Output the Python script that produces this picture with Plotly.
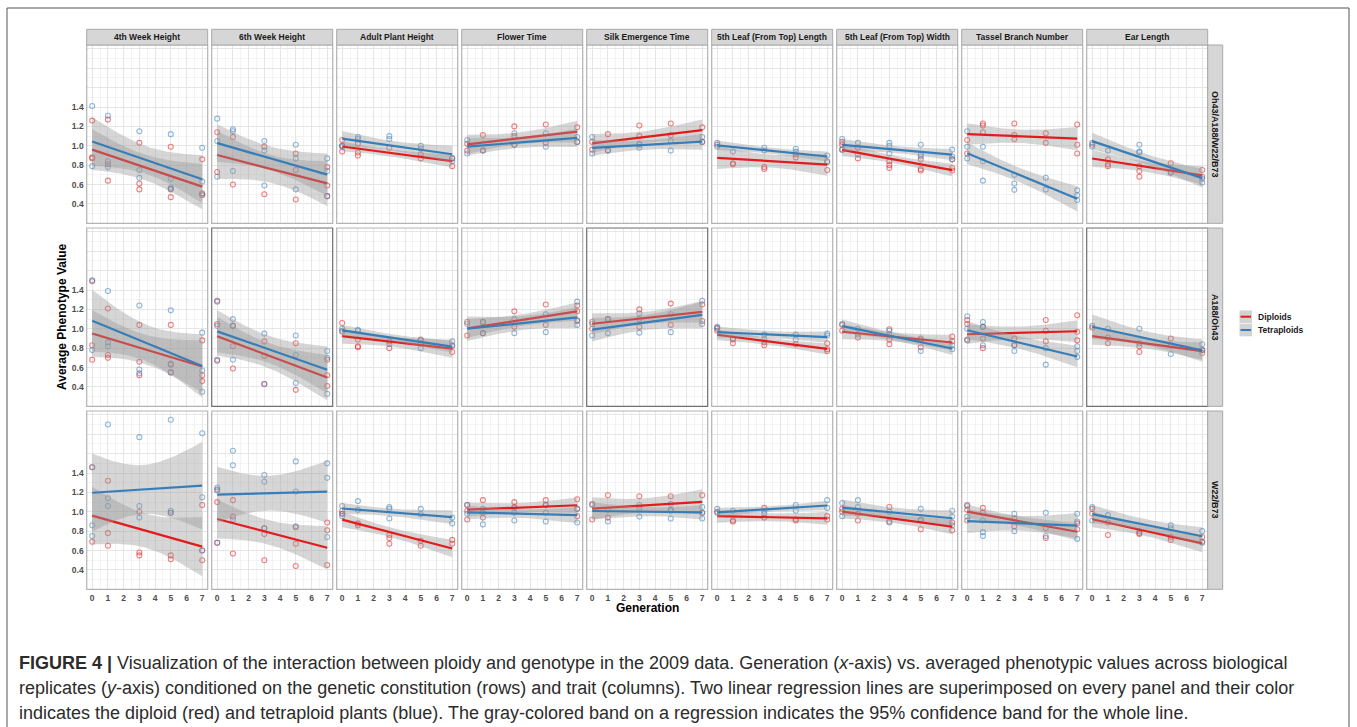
import numpy as np
import plotly.graph_objects as go

# ---------------- data ----------------
TRAITS = ["4th Week Height", "6th Week Height", "Adult Plant Height", "Flower Time",
          "Silk Emergence Time", "5th Leaf (From Top) Length", "5th Leaf (From Top) Width",
          "Tassel Branch Number", "Ear Length"]
GENOTYPES = ["Oh43/A188/W22/B73", "A188/Oh43", "W22/B73"]
PLOIDIES = ["Diploids", "Tetraploids"]
GENERATIONS = [0, 1, 3, 5, 7]
X_TICKS = [0, 1, 2, 3, 4, 5, 6, 7]
Y_TICKS = [0.4, 0.6, 0.8, 1.0, 1.2, 1.4]

# each trait: values per generation [g0, g1, g3, g5, g7]
ROW1_DIPLOID = [
    [[1.26, 0.88, 0.87], [1.27, 0.81, 0.64], [1.03, 0.61, 0.55], [0.99, 0.55, 0.47], [0.86, 0.51, 0.49]],
    [[1.14, 0.73], [1.09, 0.60], [0.99, 0.50], [0.92, 0.75, 0.445], [0.78, 0.59, 0.48]],
    [[1.06, 1.00, 0.94], [1.02, 0.93, 0.90], [0.98], [0.91, 0.87], [0.87, 0.79]],
    [[1.02, 0.95], [1.11, 0.95], [1.20, 1.10, 1.01], [1.22, 1.03], [1.19, 1.04]],
    [[1.04, 0.96], [1.12, 0.95], [1.21, 1.10, 1.01], [1.23, 1.11], [1.19, 1.04]],
    [[1.01], [0.82, 0.81], [0.78, 0.76], [0.91, 0.88], [0.84, 0.75]],
    [[1.04, 1.01, 0.96], [0.98, 0.87], [0.84, 0.80, 0.77], [0.86, 0.76, 0.745], [0.86, 0.77, 0.745]],
    [[1.06, 0.92], [1.23, 1.21, 1.14], [1.23, 1.11, 1.07], [1.13, 1.03], [1.22, 1.01, 0.92]],
    [[1.01], [0.86, 0.81, 0.79], [0.79, 0.74, 0.68], [0.82, 0.73], [0.75, 0.68]],
]
ROW1_TETRAPLOID = [
    [[1.41, 0.79], [1.31, 0.84, 0.78], [1.15, 0.75, 0.67], [1.12, 0.66, 0.57, 0.555], [0.98, 0.63, 0.50]],
    [[1.28, 1.05, 0.68], [1.17, 1.15, 0.74], [1.05, 0.95, 0.59], [1.01, 0.87, 0.55], [0.87, 0.74, 0.48]],
    [[1.00, 0.99], [1.09, 1.07], [1.10, 1.07], [1.00, 0.97], [0.87, 0.84]],
    [[1.06, 0.92], [0.95], [1.13, 1.01], [1.13, 0.99], [1.09, 1.04]],
    [[1.09, 0.92], [0.95], [1.02, 0.98], [1.05, 0.95], [1.09, 1.04]],
    [[1.03, 0.99], [0.94], [0.98, 0.95], [0.97, 0.94], [0.90, 0.83]],
    [[1.07, 0.96], [1.03, 0.91], [1.03, 1.00, 0.92], [1.01, 0.91, 0.89], [0.96, 0.89, 0.86]],
    [[1.15, 0.99, 0.87], [0.99, 0.84, 0.64], [0.70, 0.61, 0.545], [0.67, 0.55], [0.54, 0.49, 0.44]],
    [[1.03, 0.99], [0.95], [1.01, 0.94, 0.93], [0.72], [0.66, 0.62]],
]
ROW2_DIPLOID = [
    [[1.49, 0.83, 0.68], [1.21, 0.73, 0.70], [1.04, 0.66, 0.52], [1.04, 0.63, 0.55], [0.88, 0.52, 0.46]],
    [[1.29, 1.05, 0.67], [1.03, 0.82, 0.59], [0.87, 0.72, 0.43], [0.85, 0.37], [0.68, 0.52, 0.41]],
    [[1.06, 0.97], [0.89, 0.82, 0.81], [0.87, 0.80], [0.89, 0.85], [0.83, 0.76]],
    [[1.07, 0.93], [1.07, 0.955], [1.18, 1.02], [1.25, 1.04], [1.24, 1.18, 1.08]],
    [[1.07, 1.00], [1.10], [1.20, 1.10, 1.02], [1.26, 1.04], [1.25, 1.08]],
    [[1.01, 0.98], [0.89, 0.85], [0.86, 0.83], [0.84], [0.85, 0.79, 0.77]],
    [[1.04, 0.98], [0.91], [0.995, 0.89, 0.84], [0.90, 0.81], [0.92, 0.87]],
    [[1.09, 1.05, 0.89], [1.02, 0.90, 0.80], [0.90, 0.83], [1.09, 0.98, 0.87], [1.14, 0.97, 0.88]],
    [[1.01], [0.91, 0.85], [0.82, 0.76], [0.90, 0.83], [0.78, 0.75]],
]
ROW2_TETRAPLOID = [
    [[1.50, 0.78], [1.39, 0.86, 0.82], [1.24, 0.58, 0.54], [1.19, 0.64, 0.55], [0.96, 0.57, 0.35]],
    [[1.28, 1.03, 0.68], [1.10, 1.03, 0.68], [0.95, 0.43], [0.93, 0.73, 0.44], [0.77, 0.70, 0.33]],
    [[1.00, 0.98], [0.99, 0.98], [0.84], [0.88, 0.80], [0.87, 0.82]],
    [[1.05], [1.07, 0.955], [1.10, 0.955], [1.15, 0.965], [1.28, 1.09, 1.04]],
    [[1.05, 0.93], [1.10, 0.955], [1.16, 0.96], [1.15, 0.965], [1.29, 1.05]],
    [[1.02, 1.00], [0.90], [0.94, 0.89], [0.94, 0.89], [0.95, 0.93]],
    [[1.05], [1.00, 0.94], [0.98, 0.94], [0.89, 0.77], [0.83, 0.79]],
    [[1.13, 1.00, 0.88], [1.07, 1.02, 0.83], [0.83, 0.77], [0.80, 0.63], [0.82, 0.77, 0.71]],
    [[1.03], [1.00], [1.00, 0.85], [0.74], [0.84, 0.78]],
]
ROW3_DIPLOID = [
    [[1.46, 0.69], [1.32, 0.78, 0.65], [1.00, 0.58, 0.55], [0.99, 0.55, 0.51], [1.07, 0.60, 0.50]],
    [[1.23, 1.10, 0.68], [1.12, 0.95, 0.57], [0.83, 0.77, 0.50], [0.84, 0.67, 0.44], [0.89, 0.81, 0.45]],
    [[1.01, 0.98], [0.88, 0.86], [0.76, 0.73, 0.67], [0.70, 0.65], [0.71, 0.67]],
    [[1.07, 1.01, 0.92], [1.12, 0.94], [1.10, 1.05], [1.12, 1.07], [1.13, 1.03, 0.955]],
    [[1.08, 0.92], [1.17, 0.94], [1.16, 1.04], [1.16, 1.02], [1.17, 0.99]],
    [[1.00], [0.91, 0.90], [1.04, 0.94], [0.92, 0.91], [0.955, 0.92]],
    [[1.03, 1.00], [0.98, 0.91], [1.05, 0.90], [0.92, 0.82], [0.89, 0.81]],
    [[1.07, 1.02, 0.91], [1.04, 0.99], [0.93, 0.85], [0.83, 0.73], [0.88, 0.82]],
    [[1.03, 0.98], [0.89, 0.76], [0.78, 0.77], [0.74, 0.71], [0.74, 0.69]],
]
ROW3_TETRAPLOID = [
    [[1.46, 0.86, 0.75], [1.90, 1.14, 1.06], [1.77, 1.06, 0.94], [1.95, 1.01, 0.99], [1.81, 1.15, 0.60]],
    [[1.25, 1.22, 0.68], [1.63, 1.48, 0.92], [1.38, 1.31, 0.83], [1.52, 1.21, 0.85], [1.50, 1.35, 0.74]],
    [[1.06, 0.98, 0.955], [1.11, 1.02], [1.05, 1.03, 0.93], [1.03, 0.975], [0.94, 0.88]],
    [[1.07, 0.98], [1.03, 0.99, 0.87], [1.04, 0.99, 0.91], [1.07, 0.99, 0.90], [1.03, 0.89]],
    [[1.07], [1.02, 0.90], [1.07, 0.95], [1.08, 1.01, 0.93], [1.05, 0.99, 0.93]],
    [[1.03, 0.99], [1.01], [1.01, 0.98], [1.07, 1.01], [1.12, 1.04]],
    [[1.09, 0.955], [1.12, 1.05], [1.00, 0.89], [1.03, 0.91], [1.01, 0.95, 0.86]],
    [[1.06, 0.95], [0.91, 0.79, 0.75], [0.98, 0.80], [0.99, 0.75], [0.98, 0.90, 0.72]],
    [[1.05, 0.91], [0.965], [0.80], [0.86, 0.83], [0.80, 0.68]],
]

ROWS = [(ROW1_DIPLOID, ROW1_TETRAPLOID), (ROW2_DIPLOID, ROW2_TETRAPLOID), (ROW3_DIPLOID, ROW3_TETRAPLOID)]

# ---------------- style ----------------
W, H = 1357, 727
FONT = "Liberation Sans, Arial, sans-serif"
COLORS = {"Diploids": "#E41A1C", "Tetraploids": "#377EB8"}
PT_COLORS = {"Diploids": "rgba(228,26,28,0.55)", "Tetraploids": "rgba(55,126,184,0.55)"}
BAND = "rgba(153,153,153,0.4)"
PANEL_L0, PANEL_PITCH_X, PANEL_W = 86.7, 125.0, 121.0
PANEL_T0, PANEL_PITCH_Y, PANEL_H = 45.0, 183.0, 178.3
STRIP_TOP = 29.3
DARK = {(1, 1), (1, 4), (1, 8)}


def PX(x):
    return x / W


def PY(y):
    return 1 - y / H


def t975(df):
    z = 1.959964
    g1 = (z**3 + z) / 4
    g2 = (5 * z**5 + 16 * z**3 + 3 * z) / 96
    g3 = (3 * z**7 + 19 * z**5 + 17 * z**3 - 15 * z) / 384
    return z + g1 / df + g2 / df**2 + g3 / df**3


def expand(series):
    xs, ys = [], []
    for g, vals in zip(GENERATIONS, series):
        for v in vals:
            xs.append(g)
            ys.append(v)
    return np.array(xs, float), np.array(ys, float)


def fit(xs, ys):
    n = len(xs)
    b, a = np.polyfit(xs, ys, 1)
    xg = np.linspace(xs.min(), xs.max(), 80)
    yh = a + b * xg
    s = np.sqrt(np.sum((ys - (a + b * xs)) ** 2) / (n - 2))
    sxx = np.sum((xs - xs.mean()) ** 2)
    se = s * np.sqrt(1 / n + (xg - xs.mean()) ** 2 / sxx)
    t = t975(n - 2)
    return xg, yh, yh - t * se, yh + t * se


fig = go.Figure()
layout = {}
shapes = []
annotations = []

for r in range(3):
    for c in range(9):
        k = r * 9 + c + 1
        xname = "x" if k == 1 else f"x{k}"
        yname = "y" if k == 1 else f"y{k}"
        left = PANEL_L0 + c * PANEL_PITCH_X
        top = PANEL_T0 + r * PANEL_PITCH_Y
        xd = [PX(left), PX(left + PANEL_W)]
        yd = [PY(top + PANEL_H), PY(top)]
        bottom_row = r == 2
        left_col = c == 0
        layout["xaxis" if k == 1 else f"xaxis{k}"] = dict(
            domain=xd, anchor=yname, range=[-0.35, 7.35], tickvals=X_TICKS,
            showticklabels=bottom_row, ticks="", showgrid=True, gridcolor="#e6e6e6", gridwidth=1,
            minor=dict(tickvals=[v + 0.5 for v in X_TICKS[:-1]], showgrid=True, gridcolor="#f3f3f3", gridwidth=1),
            zeroline=False, showline=False, ticklabelstandoff=2,
            tickfont=dict(family=FONT, size=8.5, color="#4d4d4d", weight="bold"),
        )
        yticks_all = [0.4, 0.6, 0.8, 1.0, 1.2, 1.4, 1.6, 1.8, 2.0]
        layout["yaxis" if k == 1 else f"yaxis{k}"] = dict(
            domain=yd, anchor=xname, range=[0.2, 2.04], tickvals=yticks_all,
            ticktext=[f"{v:.1f}" if v in Y_TICKS else "" for v in yticks_all],
            showticklabels=left_col, ticks="", showgrid=True, gridcolor="#e6e6e6", gridwidth=1,
            minor=dict(tickvals=[v + 0.1 for v in yticks_all[:-1]] + [0.3], showgrid=True, gridcolor="#f3f3f3", gridwidth=1),
            zeroline=False, showline=False, ticklabelstandoff=2,
            tickfont=dict(family=FONT, size=8.5, color="#4d4d4d", weight="bold"),
        )
        dip, tet = ROWS[r]
        groups = [("Diploids", dip[c]), ("Tetraploids", tet[c])]
        # points first
        for name, ser in groups:
            xs, ys = expand(ser)
            fig.add_trace(go.Scatter(
                x=xs, y=ys, mode="markers", xaxis=xname, yaxis=yname, showlegend=False,
                marker=dict(symbol="circle-open", size=5, color=PT_COLORS[name], line=dict(width=1.1)),
                hoverinfo="skip"))
        # smooth: band then line per group
        for name, ser in groups:
            xs, ys = expand(ser)
            xg, yh, lo, hi = fit(xs, ys)
            fig.add_trace(go.Scatter(
                x=np.concatenate([xg, xg[::-1]]), y=np.concatenate([hi, lo[::-1]]),
                mode="lines", fill="toself", fillcolor=BAND, line=dict(width=0),
                xaxis=xname, yaxis=yname, showlegend=False, hoverinfo="skip"))
            fig.add_trace(go.Scatter(
                x=xg, y=yh, mode="lines", line=dict(color=COLORS[name], width=2.2),
                xaxis=xname, yaxis=yname, showlegend=False, hoverinfo="skip"))
        # panel border
        shapes.append(dict(type="rect", xref="paper", yref="paper",
                           x0=xd[0], x1=xd[1], y0=yd[0], y1=yd[1], layer="above",
                           line=dict(color="#6f6f6f" if (r, c) in DARK else "#b3b3b3", width=1.2),
                           fillcolor="rgba(0,0,0,0)"))

# top strips
for c, trait in enumerate(TRAITS):
    left = PANEL_L0 + c * PANEL_PITCH_X
    shapes.append(dict(type="rect", xref="paper", yref="paper",
                       x0=PX(left), x1=PX(left + PANEL_W), y0=PY(PANEL_T0), y1=PY(STRIP_TOP),
                       fillcolor="#d6d6d6", line=dict(color="#a8a8a8", width=1)))
    annotations.append(dict(xref="paper", yref="paper", x=PX(left + PANEL_W / 2), y=PY((PANEL_T0 + STRIP_TOP) / 2),
                            text=trait, showarrow=False, xanchor="center", yanchor="middle",
                            font=dict(family=FONT, size=8.5, color="#1a1a1a", weight="bold")))

# right strips
RS_L = PANEL_L0 + 8 * PANEL_PITCH_X + PANEL_W
for r, gt in enumerate(GENOTYPES):
    top = PANEL_T0 + r * PANEL_PITCH_Y
    shapes.append(dict(type="rect", xref="paper", yref="paper",
                       x0=PX(RS_L), x1=PX(RS_L + 15), y0=PY(top + PANEL_H), y1=PY(top),
                       fillcolor="#d6d6d6", line=dict(color="#a8a8a8", width=1)))
    annotations.append(dict(xref="paper", yref="paper", x=PX(RS_L + 7.5), y=PY(top + PANEL_H / 2),
                            text=gt, showarrow=False, textangle=90, xanchor="center", yanchor="middle",
                            font=dict(family=FONT, size=9, color="#1a1a1a", weight="bold")))

# legend (drawn)
for i, name in enumerate(PLOIDIES):
    yc = 316.7 + i * 13.3
    shapes.append(dict(type="rect", xref="paper", yref="paper",
                       x0=PX(1239.5), x1=PX(1252), y0=PY(yc + 6.3), y1=PY(yc - 6.3),
                       fillcolor="#d3d3d3", line=dict(width=0)))
    shapes.append(dict(type="line", xref="paper", yref="paper",
                       x0=PX(1240.5), x1=PX(1251), y0=PY(yc), y1=PY(yc),
                       line=dict(color=COLORS[name], width=2)))
    annotations.append(dict(xref="paper", yref="paper", x=PX(1256), y=PY(yc), text=name,
                            showarrow=False, xanchor="left", yanchor="middle",
                            font=dict(family=FONT, size=8.5, color="#1a1a1a", weight="bold")))

# axis titles
annotations.append(dict(xref="paper", yref="paper", x=PX((PANEL_L0 + RS_L) / 2), y=PY(607.5),
                        text="Generation", showarrow=False, xanchor="center", yanchor="middle",
                        font=dict(family=FONT, size=12, color="#000000", weight="bold")))
annotations.append(dict(xref="paper", yref="paper", x=PX(62), y=PY(317),
                        text="Average Phenotype Value", showarrow=False, textangle=-90,
                        xanchor="center", yanchor="middle",
                        font=dict(family=FONT, size=12, color="#000000", weight="bold")))

# frame
shapes.append(dict(type="rect", xref="paper", yref="paper", x0=PX(7), x1=PX(1349), y0=PY(735), y1=PY(8),
                   line=dict(color="#555555", width=1), fillcolor="rgba(0,0,0,0)"))

# caption
CAPTION = [
    "<b>FIGURE 4 |</b> Visualization of the interaction between ploidy and genotype in the 2009 data. Generation (<i>x</i>-axis) vs. averaged phenotypic values across biological",
    "replicates (<i>y</i>-axis) conditioned on the genetic constitution (rows) and trait (columns). Two linear regression lines are superimposed on every panel and their color",
    "indicates the diploid (red) and tetraploid plants (blue). The gray-colored band on a regression indicates the 95% confidence band for the whole line.",
]
for i, line in enumerate(CAPTION):
    annotations.append(dict(xref="paper", yref="paper", x=PX(17), y=PY(663 + i * 25), text=line,
                            showarrow=False, xanchor="left", yanchor="middle",
                            font=dict(family=FONT, size=18, color="#2b2b2b")))

fig.update_layout(
    width=W, height=H, margin=dict(l=0, r=0, t=0, b=0),
    paper_bgcolor="white", plot_bgcolor="white", showlegend=False,
    shapes=shapes, annotations=annotations, **layout)

fig.write_html("out.html", config={"displayModeBar": False},
               post_script="document.body.style.margin='0px';document.body.style.overflow='hidden';")
